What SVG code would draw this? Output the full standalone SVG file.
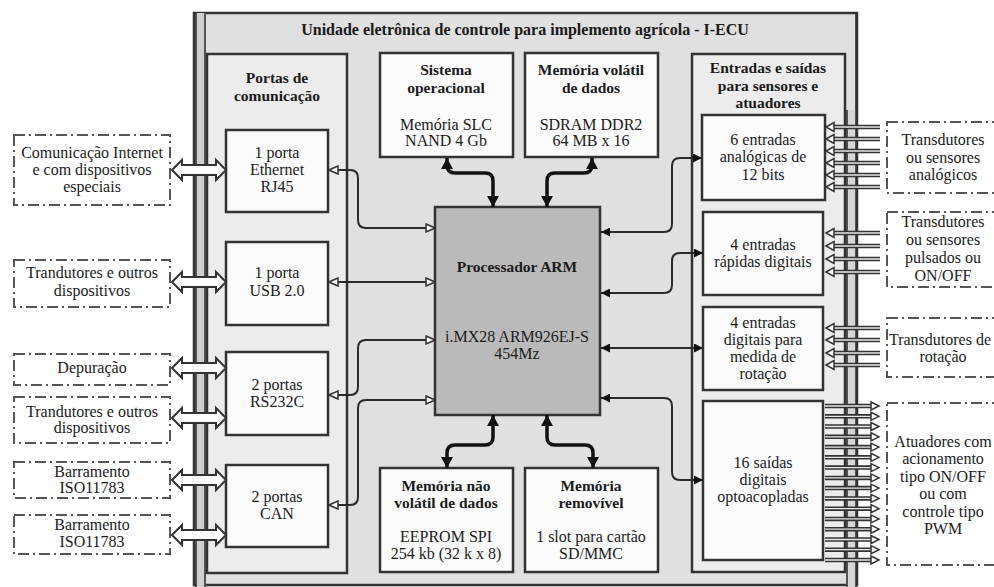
<svg xmlns="http://www.w3.org/2000/svg" width="994" height="587" viewBox="0 0 994 587">
<style>
text{font-family:"Liberation Serif","Times New Roman",serif;font-size:16px;fill:#1a1a1a;text-anchor:middle}
.b{font-weight:bold;font-size:15.5px}
.t{font-weight:bold;font-size:16px}
.box{fill:#fbfbfb;stroke:#333;stroke-width:2.5}
.panel{fill:#ececec;stroke:#333;stroke-width:2.5}
.ext{fill:#fff;stroke:#555;stroke-width:2;stroke-dasharray:11 4 2 4}
.dbl{fill:#fff;stroke:#333;stroke-width:2}
.thin{fill:none;stroke:#2a2a2a;stroke-width:2}
.thick{fill:none;stroke:#111;stroke-width:3.5}
.ra{stroke:#333;stroke-width:4.5}
.rai{stroke:#e8e8e8;stroke-width:1.3}
.bus{stroke:#333;stroke-width:1.6}
</style>
<defs>
<marker id="ho" markerUnits="userSpaceOnUse" markerWidth="11" markerHeight="10" refX="10" refY="5" orient="auto-start-reverse"><path d="M1,1 L10,5 L1,9 z" fill="#fff" stroke="#333" stroke-width="1.5"/></marker>
<marker id="fi" markerUnits="userSpaceOnUse" markerWidth="10" markerHeight="9" refX="9" refY="4.5" orient="auto-start-reverse"><path d="M0,0 L9,4.5 L0,9 z" fill="#111"/></marker>
<marker id="tk" markerUnits="userSpaceOnUse" markerWidth="12" markerHeight="12" refX="11" refY="6" orient="auto-start-reverse"><path d="M0,0 L11,6 L0,12 z" fill="#111"/></marker>
</defs>

<g id="ecu">
<rect x="194" y="13" width="663" height="572" fill="#e0e0e0" stroke="#333" stroke-width="2.5"/>
<text class="t" x="525" y="35">Unidade eletrônica de controle para implemento agrícola - I-ECU</text>
</g>

<g id="buses">
<rect x="196" y="13" width="10" height="574" fill="#cfcfcf"/>
<line class="bus" x1="196" y1="13" x2="196" y2="587"/>
<line class="bus" x1="205" y1="13" x2="205" y2="587"/>
<rect x="846" y="110" width="10" height="477" fill="#d6d6d6"/>
<line class="bus" x1="847" y1="110" x2="847" y2="587"/>
<line class="bus" x1="856" y1="13" x2="856" y2="587"/>
</g>

<g id="portas">
<rect class="panel" x="207" y="54" width="140" height="519"/>
<text class="b" x="277" y="83">Portas de</text>
<text class="b" x="277" y="101">comunicação</text>
</g>

<g id="es">
<rect class="panel" x="692" y="54" width="153" height="518"/>
<text class="b" x="768" y="73">Entradas e saídas</text>
<text class="b" x="768" y="91">para sensores e</text>
<text class="b" x="768" y="108">atuadores</text>
</g>

<g id="so">
<rect class="box" x="380" y="53" width="133" height="104"/>
<text class="b" x="446" y="75">Sistema</text>
<text class="b" x="446" y="93">operacional</text>
<text x="446" y="130">Memória SLC</text>
<text x="446" y="146">NAND 4 Gb</text>
</g>

<g id="vol">
<rect class="box" x="525" y="53" width="133" height="104"/>
<text class="b" x="591" y="75">Memória volátil</text>
<text class="b" x="591" y="93">de dados</text>
<text x="591" y="130">SDRAM DDR2</text>
<text x="591" y="146">64 MB x 16</text>
</g>

<g id="nv">
<rect class="box" x="380" y="468" width="133" height="104"/>
<text class="b" x="446" y="491">Memória não</text>
<text class="b" x="446" y="508">volátil de dados</text>
<text x="446" y="542">EEPROM SPI</text>
<text x="446" y="559">254 kb (32 k x 8)</text>
</g>

<g id="rem">
<rect class="box" x="525" y="468" width="133" height="104"/>
<text class="b" x="591" y="491">Memória</text>
<text class="b" x="591" y="508">removível</text>
<text x="591" y="542">1 slot para cartão</text>
<text x="591" y="559">SD/MMC</text>
</g>

<g id="arm">
<rect x="435" y="207" width="165" height="208" fill="#bababa" stroke="#333" stroke-width="2.5"/>
<text class="b" x="517" y="272">Processador ARM</text>
<text x="517" y="342">i.MX28 ARM926EJ-S</text>
<text x="517" y="359">454Mz</text>
</g>

<g id="eth"><rect class="box" x="226" y="130" width="102" height="82"/>
<text x="277" y="158">1 porta</text><text x="277" y="175">Ethernet</text><text x="277" y="192">RJ45</text></g>
<g id="usb"><rect class="box" x="226" y="242" width="102" height="83"/>
<text x="277" y="278">1 porta</text><text x="277" y="296">USB 2.0</text></g>
<g id="rs232"><rect class="box" x="226" y="352" width="102" height="83"/>
<text x="277" y="390">2 portas</text><text x="277" y="407">RS232C</text></g>
<g id="can"><rect class="box" x="226" y="465" width="102" height="82"/>
<text x="277" y="502">2 portas</text><text x="277" y="519">CAN</text></g>

<g id="an"><rect class="box" x="702" y="115" width="123" height="85"/>
<text x="763" y="145">6 entradas</text><text x="763" y="162">analógicas de</text><text x="763" y="180">12 bits</text></g>
<g id="fast"><rect class="box" x="703" y="212" width="120" height="83"/>
<text x="763" y="250">4 entradas</text><text x="763" y="267">rápidas digitais</text></g>
<g id="rot"><rect class="box" x="703" y="307" width="120" height="83"/>
<text x="763" y="328">4 entradas</text><text x="763" y="345">digitais para</text><text x="763" y="362">medida de</text><text x="763" y="379">rotação</text></g>
<g id="out"><rect class="box" x="703" y="401" width="120" height="159"/>
<text x="763" y="468">16 saídas</text><text x="763" y="485">digitais</text><text x="763" y="502">optoacopladas</text></g>

<g id="ext-l1"><rect class="ext" x="14" y="135" width="156" height="70"/>
<text x="92" y="158">Comunicação Internet</text><text x="92" y="175">e com dispositivos</text><text x="92" y="192">especiais</text></g>
<g id="ext-l2"><rect class="ext" x="14" y="260" width="156" height="47"/>
<text x="92" y="278">Trandutores e outros</text><text x="92" y="296">dispositivos</text></g>
<g id="ext-l3"><rect class="ext" x="14" y="354" width="156" height="31"/>
<text x="92" y="373">Depuração</text></g>
<g id="ext-l4"><rect class="ext" x="14" y="397" width="156" height="46"/>
<text x="92" y="417">Trandutores e outros</text><text x="92" y="433">dispositivos</text></g>
<g id="ext-l5"><rect class="ext" x="14" y="462" width="156" height="36"/>
<text x="92" y="477">Barramento</text><text x="92" y="493">ISO11783</text></g>
<g id="ext-l6"><rect class="ext" x="14" y="515" width="156" height="39"/>
<text x="92" y="530">Barramento</text><text x="92" y="547">ISO11783</text></g>

<g id="ext-r1"><rect class="ext" x="887" y="122" width="120" height="71"/>
<text x="943" y="145">Transdutores</text><text x="943" y="163">ou sensores</text><text x="943" y="180">analógicos</text></g>
<g id="ext-r2"><rect class="ext" x="887" y="212" width="120" height="75"/>
<text x="943" y="227">Transdutores</text><text x="943" y="245">ou sensores</text><text x="943" y="263">pulsados ou</text><text x="943" y="281">ON/OFF</text></g>
<g id="ext-r3"><rect class="ext" x="887" y="318" width="120" height="59"/>
<text x="940" y="345">Transdutores de</text><text x="943" y="362">rotação</text></g>
<g id="ext-r4"><rect class="ext" x="887" y="403" width="120" height="162"/>
<text x="943" y="447">Atuadores com</text><text x="943" y="464">acionamento</text><text x="943" y="482">tipo ON/OFF</text><text x="943" y="499">ou com</text><text x="943" y="517">controle tipo</text><text x="943" y="534">PWM</text></g>

<g id="connectors">
<path class="dbl" d="M172,170 l10,-10 v5 h34 v-5 l10,10 l-10,10 v-5 h-34 v5 z"/>
<path class="dbl" d="M172,282 l10,-10 v5 h34 v-5 l10,10 l-10,10 v-5 h-34 v5 z"/>
<path class="dbl" d="M172,368 l10,-10 v5 h34 v-5 l10,10 l-10,10 v-5 h-34 v5 z"/>
<path class="dbl" d="M172,418 l10,-10 v5 h34 v-5 l10,10 l-10,10 v-5 h-34 v5 z"/>
<path class="dbl" d="M172,480 l10,-10 v5 h34 v-5 l10,10 l-10,10 v-5 h-34 v5 z"/>
<path class="dbl" d="M172,535 l10,-10 v5 h34 v-5 l10,10 l-10,10 v-5 h-34 v5 z"/>

<path class="thin" marker-start="url(#ho)" marker-end="url(#ho)" d="M329,170 H350 Q358,170 358,178 V220 Q358,228 366,228 H435"/>
<path class="thin" marker-start="url(#ho)" marker-end="url(#ho)" d="M329,282 H435"/>
<path class="thin" marker-start="url(#ho)" marker-end="url(#ho)" d="M329,395 H350 Q358,395 358,387 V348 Q358,340 366,340 H435"/>
<path class="thin" marker-start="url(#ho)" marker-end="url(#ho)" d="M329,505 H350 Q358,505 358,497 V408 Q358,400 366,400 H435"/>

<path class="thin" marker-start="url(#fi)" marker-end="url(#fi)" d="M601,232 H664 Q672,232 672,224 V166 Q672,158 680,158 H702"/>
<path class="thin" marker-start="url(#fi)" marker-end="url(#fi)" d="M601,293 H664 Q672,293 672,285 V261 Q672,253 680,253 H703"/>
<path class="thin" marker-start="url(#fi)" marker-end="url(#fi)" d="M601,348 H703"/>
<path class="thin" marker-start="url(#fi)" marker-end="url(#fi)" d="M601,398 H664 Q672,398 672,406 V472 Q672,480 680,480 H703"/>

<path class="thick" marker-start="url(#tk)" marker-end="url(#tk)" d="M447,158 V165 Q447,173 455,173 H485 Q493,173 493,181 V207"/>
<path class="thick" marker-start="url(#tk)" marker-end="url(#tk)" d="M592,158 V165 Q592,173 584,173 H555 Q547,173 547,181 V207"/>
<path class="thick" marker-start="url(#tk)" marker-end="url(#tk)" d="M493,415 V437 Q493,445 485,445 H455 Q447,445 447,453 V468"/>
<path class="thick" marker-start="url(#tk)" marker-end="url(#tk)" d="M547,415 V437 Q547,445 555,445 H585 Q593,445 593,453 V468"/>

<g id="in-arrows">
<path class="ra" d="M880,127H830M880,139H830M880,151H830M880,163H830M880,175H830M880,187H830M880,233H830M880,246H830M880,259H830M880,272H830M880,328H830M880,340H830M880,353H830M880,365H830"/>
<path class="rai" d="M880,127H830M880,139H830M880,151H830M880,163H830M880,175H830M880,187H830M880,233H830M880,246H830M880,259H830M880,272H830M880,328H830M880,340H830M880,353H830M880,365H830"/>
<g fill="#fff" stroke="#333" stroke-width="1.5">
<path d="M826,127l8,-4.5v9z"/><path d="M826,139l8,-4.5v9z"/><path d="M826,151l8,-4.5v9z"/><path d="M826,163l8,-4.5v9z"/><path d="M826,175l8,-4.5v9z"/><path d="M826,187l8,-4.5v9z"/>
<path d="M826,233l8,-4.5v9z"/><path d="M826,246l8,-4.5v9z"/><path d="M826,259l8,-4.5v9z"/><path d="M826,272l8,-4.5v9z"/>
<path d="M826,328l8,-4.5v9z"/><path d="M826,340l8,-4.5v9z"/><path d="M826,353l8,-4.5v9z"/><path d="M826,365l8,-4.5v9z"/>
</g>
</g>
<g id="out-arrows">
<path class="ra" d="M825,406H872M825,416.3H872M825,426.5H872M825,436.8H872M825,447.1H872M825,457.3H872M825,467.6H872M825,477.9H872M825,488.1H872M825,498.4H872M825,508.7H872M825,518.9H872M825,529.2H872M825,539.5H872M825,549.7H872M825,560H872"/>
<path class="rai" d="M825,406H872M825,416.3H872M825,426.5H872M825,436.8H872M825,447.1H872M825,457.3H872M825,467.6H872M825,477.9H872M825,488.1H872M825,498.4H872M825,508.7H872M825,518.9H872M825,529.2H872M825,539.5H872M825,549.7H872M825,560H872"/>
<g fill="#fff" stroke="#333" stroke-width="1.5">
<path d="M879,406l-8,-4v8z"/><path d="M879,416.3l-8,-4v8z"/><path d="M879,426.5l-8,-4v8z"/><path d="M879,436.8l-8,-4v8z"/><path d="M879,447.1l-8,-4v8z"/><path d="M879,457.3l-8,-4v8z"/><path d="M879,467.6l-8,-4v8z"/><path d="M879,477.9l-8,-4v8z"/>
<path d="M879,488.1l-8,-4v8z"/><path d="M879,498.4l-8,-4v8z"/><path d="M879,508.7l-8,-4v8z"/><path d="M879,518.9l-8,-4v8z"/><path d="M879,529.2l-8,-4v8z"/><path d="M879,539.5l-8,-4v8z"/><path d="M879,549.7l-8,-4v8z"/><path d="M879,560l-8,-4v8z"/>
</g>
</g>
</g>
</svg>
